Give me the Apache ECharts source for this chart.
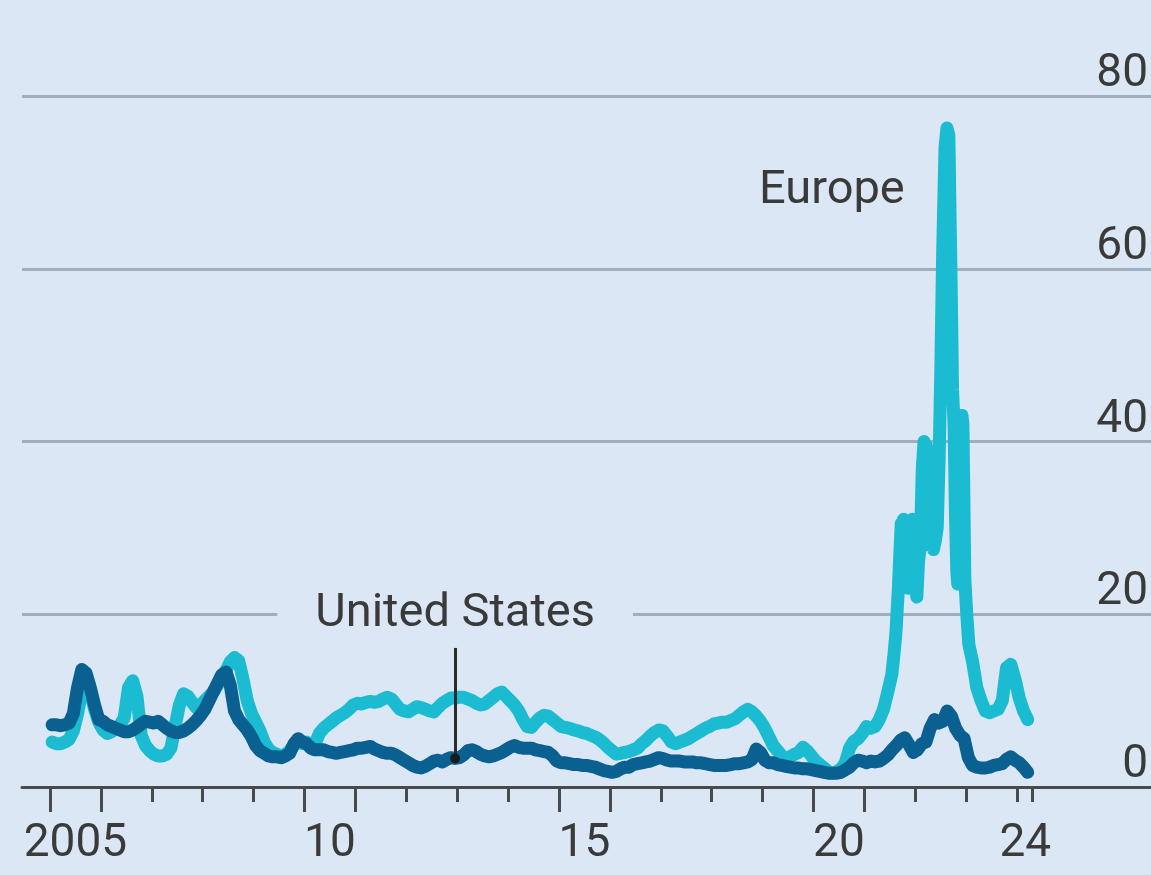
<!DOCTYPE html>
<html>
<head>
<meta charset="utf-8">
<title>Natural-gas prices, Europe and United States</title>
<script src="https://cdn.jsdelivr.net/npm/echarts@6/dist/echarts.min.js"></script>
<style>
  html, body { margin: 0; padding: 0; background: #dbe7f5; }
  #chart { width: 1151px; height: 875px; }
</style>
</head>
<body>
<div id="chart"></div>
<script>
// Monthly series start in January of this year
const START_YEAR = 2005;

// United States, monthly, Jan 2005 - Mar 2024
const usPrice = [
  7.2, 7.2, 7.1, 7.2, 7.4, 8.5, 11.5, 13.6, 13.2, 11.5, 9.5, 7.8,   // 2005
  7.6, 7.2, 7.0, 6.8, 6.6, 6.4, 6.4, 6.6, 6.9, 7.3, 7.6, 7.5,       // 2006
  7.4, 7.6, 7.2, 6.8, 6.5, 6.3, 6.3, 6.5, 6.8, 7.2, 7.7, 8.3,       // 2007
  9.0, 10.0, 11.0, 12.0, 13.0, 13.3, 11.8, 8.8, 7.8, 7.2, 6.6, 5.8, // 2008
  4.8, 4.2, 3.9, 3.6, 3.5, 3.5, 3.4, 3.6, 3.9, 5.0, 5.6, 5.2,       // 2009
  5.0, 4.5, 4.3, 4.3, 4.3, 4.1, 4.0, 3.9, 4.0, 4.1, 4.2, 4.3,       // 2010
  4.5, 4.5, 4.6, 4.7, 4.4, 4.2, 4.0, 3.9, 3.9, 3.7, 3.4, 3.1,       // 2011
  2.8, 2.5, 2.3, 2.2, 2.4, 2.7, 3.0, 3.1, 2.9, 3.2, 3.4, 3.3,       // 2012
  3.4, 3.7, 4.2, 4.3, 4.1, 3.8, 3.6, 3.5, 3.6, 3.8, 4.0, 4.3,       // 2013
  4.6, 4.8, 4.6, 4.5, 4.5, 4.5, 4.3, 4.2, 4.1, 4.0, 3.6, 3.0,       // 2014
  2.8, 2.8, 2.7, 2.6, 2.6, 2.5, 2.5, 2.4, 2.3, 2.1, 1.9, 1.8,       // 2015
  1.7, 1.8, 2.1, 2.3, 2.3, 2.6, 2.7, 2.8, 2.9, 3.0, 3.2, 3.4,       // 2016
  3.3, 3.1, 3.0, 3.0, 3.0, 2.9, 2.9, 2.9, 2.8, 2.8, 2.7, 2.6,       // 2017
  2.5, 2.5, 2.5, 2.5, 2.6, 2.7, 2.7, 2.8, 2.9, 3.2, 4.4, 4.0,       // 2018
  3.1, 2.8, 2.8, 2.6, 2.5, 2.4, 2.3, 2.2, 2.2, 2.1, 2.1, 2.0,       // 2019
  1.9, 1.8, 1.7, 1.6, 1.6, 1.6, 1.7, 2.0, 2.3, 2.8, 3.1, 3.0,       // 2020
  2.8, 3.0, 2.9, 3.0, 3.3, 3.7, 4.3, 4.8, 5.4, 5.7, 4.9, 4.0,       // 2021
  4.3, 5.0, 5.2, 6.8, 7.8, 7.4, 7.6, 8.8, 8.2, 6.8, 6.0, 5.6,       // 2022
  3.4, 2.5, 2.3, 2.2, 2.2, 2.3, 2.5, 2.6, 2.7, 3.2, 3.5, 3.1,       // 2023
  2.8, 2.3, 1.7                                                     // 2024
];

// Europe, monthly; null where the weekly detail below takes over
const euPrice = [
  5.2, 5.0, 5.0, 5.2, 5.5, 6.5, 8.5, 11.0, 12.0, 11.0, 9.0, 7.5,    // 2005
  6.6, 6.2, 6.4, 6.8, 7.2, 8.0, 11.5, 12.3, 10.5, 6.0, 4.8, 4.2,    // 2006
  3.8, 3.6, 3.6, 3.8, 4.5, 7.0, 9.5, 10.8, 10.5, 9.8, 9.2, 9.5,     // 2007
  10.0, 10.5, 11.0, 11.8, 12.5, 13.5, 14.5, 15.0, 14.6, 12.5, 10.0, 8.5, // 2008
  7.5, 6.5, 5.2, 4.4, 4.0, 3.8, 3.6, 3.8, 4.2, 4.8, 5.2, 5.0,       // 2009
  5.2, 4.8, 5.0, 6.2, 6.8, 7.2, 7.6, 8.0, 8.3, 8.6, 9.0, 9.5,       // 2010
  9.7, 9.6, 9.8, 9.9, 9.8, 9.9, 10.2, 10.4, 10.2, 9.6, 9.0, 8.8,    // 2011
  8.7, 9.0, 9.3, 9.2, 9.0, 8.8, 8.7, 9.2, 9.7, 10.0, 10.3, 10.3,    // 2012
  10.4, 10.4, 10.2, 10.0, 9.7, 9.5, 9.6, 10.0, 10.4, 10.8, 11.0, 10.5, // 2013
  10.0, 9.5, 8.8, 7.8, 7.0, 6.9, 7.5, 8.0, 8.3, 8.2, 7.8, 7.4,      // 2014
  7.0, 6.9, 6.8, 6.6, 6.5, 6.3, 6.2, 6.0, 5.8, 5.5, 5.1, 4.6,       // 2015
  4.2, 3.8, 3.9, 4.0, 4.1, 4.3, 4.5, 5.0, 5.4, 5.9, 6.3, 6.6,       // 2016
  6.5, 5.9, 5.2, 5.0, 5.2, 5.4, 5.6, 5.9, 6.2, 6.5, 6.8, 7.0,       // 2017
  7.3, 7.4, 7.5, 7.5, 7.7, 7.9, 8.3, 8.7, 9.0, 8.7, 8.2, 7.6,       // 2018
  6.8, 5.8, 4.8, 4.2, 3.6, 3.3, 3.5, 3.8, 4.0, 4.6, 4.2, 3.6,       // 2019
  3.0, 2.6, 2.2, 1.8, 1.6, 1.8, 2.1, 2.8, 4.5, 5.3, 5.6, 6.2,       // 2020
  7.0, 6.8, 7.0, 7.8, 9.0, 11.0, null, null, null, null, null, null, // 2021
  null, null, null, null, null, null, null, null, null, null, null, null, // 2022
  null, 14.5, 11.5, 10.0, 8.8, 8.6, 8.8, 9.0, 10.0, 13.8, 14.2, 12.5, // 2023
  10.3, 8.8, 7.8                                                    // 2024
];

// Europe, weekly detail through the 2021-23 price surge
const euWeekDates = [
  '2021-07-15', '2021-08-01', '2021-08-15', '2021-09-01', '2021-09-12', '2021-09-22',
  '2021-10-01', '2021-10-08', '2021-10-15', '2021-10-22', '2021-11-01', '2021-11-12',
  '2021-11-22', '2021-12-01', '2021-12-10', '2021-12-20', '2022-01-01', '2022-01-12',
  '2022-01-24', '2022-02-07', '2022-02-21', '2022-03-03', '2022-03-10', '2022-03-20',
  '2022-04-01', '2022-04-12', '2022-04-25', '2022-05-09', '2022-05-23', '2022-06-06',
  '2022-06-20', '2022-07-01', '2022-07-15', '2022-08-01', '2022-08-15', '2022-08-29',
  '2022-09-05', '2022-09-15', '2022-09-25', '2022-10-05', '2022-10-15', '2022-10-25',
  '2022-11-01', '2022-11-10', '2022-11-20', '2022-12-01', '2022-12-08', '2022-12-15',
  '2022-12-22', '2023-01-05', '2023-01-20'
];
const euWeekValues = [
  13.0, 15.5, 18.0, 23.0, 27.0, 30.5,
  29.0, 31.0, 27.5, 30.0, 25.0, 23.0,
  26.0, 29.0, 31.0, 26.5, 24.0, 22.0,
  26.0, 28.0, 37.0, 40.0, 38.0, 39.5,
  32.0, 28.0, 29.0, 27.5, 28.5, 30.0,
  38.0, 48.0, 62.0, 74.0, 76.3, 75.5,
  68.0, 58.0, 46.0, 42.0, 32.0, 25.0,
  23.5, 33.0, 41.0, 43.0, 42.0, 33.0,
  24.0, 20.0, 16.5
];

// Axis ticks and labels (years)
const yearTicks = [2005, 2006, 2007, 2008, 2009, 2010, 2011, 2012, 2013, 2014,
                   2015, 2016, 2017, 2018, 2019, 2020, 2021, 2022, 2023, 2024, 2024.3];
const longTicks = [2005, 2006, 2010, 2011, 2015, 2016, 2020, 2021];
const yearLabelPos = [2005.5, 2010.5, 2015.5, 2020.5, 2024.16];
const yearLabelText = ['2005', '10', '15', '20', '24'];
const valueTicks = [0, 20, 40, 60, 80];

// Annotations
const usLabel = 'United States';
const usLabelMonth = 95;          // Dec 2012, where the pointer touches the line
const euLabel = 'Europe';
const euLabelAt = [2020.36, 69];

const BG = '#dbe7f5';
const TEXT = '#3a3a3a';
const EU_COLOR = '#1bbcd2';
const US_COLOR = '#0a6191';
const FONT = "'Roboto', 'Liberation Sans', sans-serif";

const monthPos = i => START_YEAR + (i + 0.5) / 12;
const datePos = s => {
  const [y, m, d] = s.split('-').map(Number);
  return y + (m - 1 + (d - 1) / 31) / 12;
};

const usData = usPrice.map((v, i) => [monthPos(i), v]);
const euData = [];
euPrice.forEach((v, i) => { if (v !== null) euData.push([monthPos(i), v]); });
euWeekDates.forEach((d, i) => euData.push([datePos(d), euWeekValues[i]]));
euData.sort((a, b) => a[0] - b[0]);

const pointerX = monthPos(usLabelMonth);
const pointerY = usPrice[usLabelMonth];

const X_MIN = 2004.45, X_MAX = 2026.63;

const chart = echarts.init(document.getElementById('chart'), null, { renderer: 'canvas' });
chart.setOption({
  animation: false,
  backgroundColor: BG,
  grid: { left: 22, right: 0, top: 96, bottom: 88 },
  xAxis: [
    {
      type: 'value', min: X_MIN, max: X_MAX, position: 'bottom',
      axisLine: { show: true, lineStyle: { color: '#4a4a4a', width: 3 } },
      axisTick: { show: true, customValues: yearTicks, length: 15,
                  lineStyle: { color: '#4a4a4a', width: 3 } },
      axisLabel: {
        show: true, customValues: yearLabelPos, margin: 34, lineHeight: 46,
        fontFamily: FONT, fontSize: 46, color: TEXT,
        formatter: v => {
          const k = yearLabelPos.findIndex(p => Math.abs(p - v) < 1e-6);
          return k >= 0 ? yearLabelText[k] : '';
        }
      },
      splitLine: { show: false }
    },
    {
      type: 'value', min: X_MIN, max: X_MAX, position: 'bottom', offset: 0,
      axisLine: { show: false },
      axisTick: { show: true, customValues: longTicks, length: 25,
                  lineStyle: { color: '#4a4a4a', width: 3 } },
      axisLabel: { show: false },
      splitLine: { show: false }
    }
  ],
  yAxis: {
    type: 'value', min: 0, max: 80, interval: 20, position: 'right',
    axisLine: { show: false },
    axisTick: { show: false },
    axisLabel: {
      inside: true, margin: 3, verticalAlign: 'bottom', lineHeight: 43,
      fontFamily: FONT, fontSize: 46, color: TEXT,
      formatter: v => (valueTicks.includes(v) ? String(v) : '')
    },
    splitLine: { show: true, lineStyle: { color: '#a1aebb', width: 3 } }
  },
  series: [
    {
      name: 'Europe', type: 'line', data: euData, showSymbol: false,
      lineStyle: { color: EU_COLOR, width: 13, cap: 'round', join: 'round' },
      markPoint: {
        silent: true,
        data: [{
          coord: euLabelAt, symbol: 'circle', symbolSize: 0,
          label: { show: true, position: 'inside', formatter: euLabel,
                   fontFamily: FONT, fontSize: 47, color: TEXT }
        }]
      }
    },
    {
      name: 'United States', type: 'line', data: usData, showSymbol: false,
      lineStyle: { color: US_COLOR, width: 13, cap: 'round', join: 'round' },
      markLine: {
        silent: true, symbol: ['none', 'none'],
        label: { show: false },
        lineStyle: { color: '#2b2b2b', width: 3, type: 'solid' },
        data: [[{ coord: [pointerX, pointerY] }, { coord: [pointerX, 16.1] }]]
      },
      markPoint: {
        silent: true,
        data: [
          {
            coord: [pointerX, 20], symbol: 'circle', symbolSize: 0,
            label: { show: true, position: 'inside', formatter: usLabel,
                     fontFamily: FONT, fontSize: 47, color: TEXT,
                     backgroundColor: BG, padding: [2, 38] }
          },
          {
            coord: [pointerX, pointerY], symbol: 'circle', symbolSize: 10,
            itemStyle: { color: '#1a1a1a' }, label: { show: false }
          }
        ]
      }
    }
  ]
});
</script>
</body>
</html>
